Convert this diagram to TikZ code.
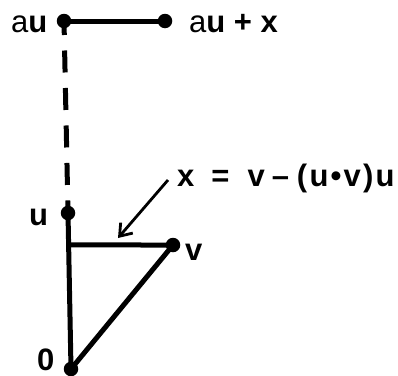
\documentclass[tikz,border=0pt]{standalone}
\usepackage{fontspec}
\setmainfont{Liberation Sans}
\usetikzlibrary{arrows.meta,calc}
\begin{document}
\begin{tikzpicture}[x=1pt,y=-1pt,
  vec/.style={line width=5pt},
  dashvec/.style={line width=5pt,dash pattern=on 22pt off 15.5pt,dash phase=8pt},
  dotmark/.style={circle,fill=black,inner sep=0pt,minimum size=14.5pt},
  lbl/.style={inner sep=0pt,anchor=base west,font=\fontsize{31}{36}\selectfont\bfseries},
  pointer/.style={line width=2.8pt,-{Straight Barb[length=11pt,width=16pt,line width=2.8pt]}}]
\useasboundingbox (0,0) rectangle (398,375);
\coordinate (A) at (64,21);
\coordinate (B) at (165,21);
\coordinate (U) at (68,213);
\coordinate (V) at (173,245);
\coordinate (O) at (71,369);
\coordinate (F) at ($(U)!0.205!(O)$);
\coordinate (S) at (168,180);
\coordinate (T) at (118,238);
\draw[vec] (A) -- (B);
\draw[dashvec] (A) -- (U);
\draw[vec] (U) -- (O);
\draw[vec] (F) -- (V);
\draw[vec] (O) -- (V);
\draw[pointer] (S) -- (T);
\node[dotmark] (dA) at (A) {};
\node[dotmark] (dB) at (B) {};
\node[dotmark] (dU) at (U) {};
\node[dotmark] (dV) at (V) {};
\node[dotmark] (dO) at (O) {};
\node[lbl] (lA) at (11,32) {\mdseries a\bfseries u};
\node[lbl] (lB) at (189,32) {\mdseries a\bfseries u + x};
\node[lbl] (lX) at (177,186) {x\hspace{17pt}=\hspace{18pt}v\hspace{7pt}--\hspace{8pt}(\hspace{2.2pt}u\hspace{2.2pt}\textbullet\hspace{2.2pt}v\hspace{2.2pt})\hspace{2.2pt}u};
\node[lbl] (lU) at (29,225) {u};
\node[lbl] (lV) at (185,260) {v};
\node[lbl] (lO) at (37,370) {0};
\end{tikzpicture}
\end{document}
